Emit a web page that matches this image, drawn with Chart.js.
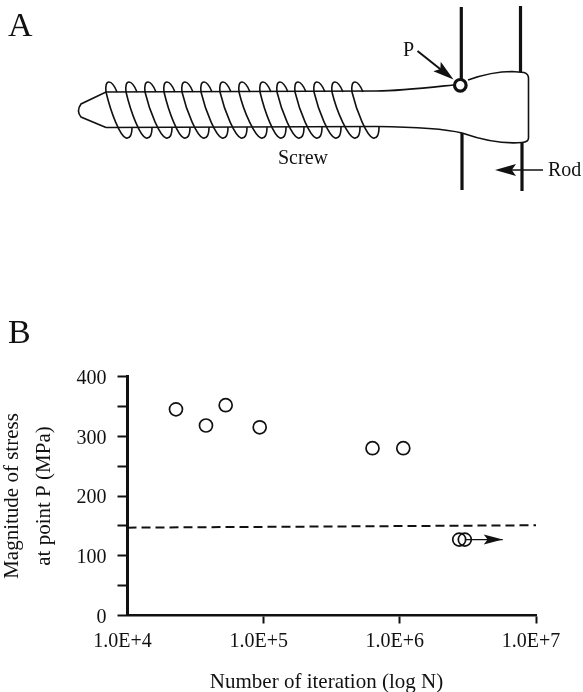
<!DOCTYPE html>
<html>
<head>
<meta charset="utf-8">
<title>Screw stress</title>
<script src="https://cdn.jsdelivr.net/npm/chart.js@4"></script>
<style>
    html, body { margin: 0; padding: 0; background: #fff; }
    canvas { display: block; }
</style>
</head>
<body>
<canvas id="stressChart" width="583" height="692"></canvas>
<script>
// ---------- Data ----------
const iterations = [2.27e4, 3.77e4, 5.26e4, 9.35e4, 6.3e5, 1.06e6, 2.73e6, 3.0e6];
const stress = [345, 318, 352, 315, 280, 280, 127, 127];
const limitIterations = [1e4, 1e7];
const limitStress = [147, 151];
const runoutIterations = [3.0e6, 5.7e6];
const runoutStress = [127, 127];
const xTicks = [1e4, 1e5, 1e6, 1e7];
const xTickLabels = ['1.0E+4', '1.0E+5', '1.0E+6', '1.0E+7'];
const yLabelledTicks = [0, 100, 200, 300, 400];

// ---------- Panel A outline (screw helix peaks) ----------
const coilTops = [109, 129, 148, 167, 185, 204, 223, 242, 263, 280, 298, 317, 335, 355];
const coilBottoms = [127, 147, 167, 185, 204, 223, 242, 262, 281, 299, 317, 336, 355, 374];

const INK = '#111';
const SERIF = '"Liberation Serif", "Times New Roman", serif';

function arrowHead(ctx, tipX, tipY, angle, length, halfWidth) {
    ctx.save();
    ctx.translate(tipX, tipY);
    ctx.rotate(angle);
    ctx.beginPath();
    ctx.moveTo(0, 0);
    ctx.lineTo(-length, -halfWidth);
    ctx.lineTo(-length * 0.8, 0);
    ctx.lineTo(-length, halfWidth);
    ctx.closePath();
    ctx.fill();
    ctx.restore();
}

function strokeLine(ctx, x1, y1, x2, y2, width) {
    ctx.lineWidth = width;
    ctx.beginPath();
    ctx.moveTo(x1, y1);
    ctx.lineTo(x2, y2);
    ctx.stroke();
}

function drawScrew(ctx) {
    ctx.lineWidth = 1.6;
    ctx.beginPath();
    // tip and top edge
    ctx.moveTo(106, 127.5);
    ctx.lineTo(81, 117);
    ctx.quadraticCurveTo(76, 111, 81, 104);
    ctx.lineTo(106, 92);
    ctx.lineTo(376, 91);
    ctx.bezierCurveTo(400, 91, 425, 88, 453, 85);
    // head
    ctx.moveTo(468, 80);
    ctx.bezierCurveTo(482, 75, 497, 71.5, 512, 71.5);
    ctx.lineTo(524, 72.5);
    ctx.quadraticCurveTo(528.5, 74, 528.5, 78);
    ctx.lineTo(528.5, 138);
    ctx.quadraticCurveTo(528.5, 142, 522, 142.5);
    ctx.bezierCurveTo(505, 144, 485, 141, 462, 133);
    // bottom edge
    ctx.bezierCurveTo(450, 130, 425, 127, 376, 126.5);
    ctx.lineTo(106, 127.5);
    ctx.stroke();

    coilTops.forEach((top, i) => {
        const bottom = coilBottoms[i];
        ctx.beginPath();
        ctx.moveTo(top + 8, 92);
        ctx.quadraticCurveTo(top + 4, 82, top, 82);
        ctx.quadraticCurveTo(top - 4, 82, top - 3, 92);
        ctx.bezierCurveTo(top + 2, 113, bottom - 7, 136, bottom - 1, 138);
        ctx.quadraticCurveTo(bottom + 5, 139, bottom + 5, 127);
        ctx.stroke();
    });
}

const panelA = {
    id: 'panelA',
    afterDraw(chart) {
        const ctx = chart.ctx;
        ctx.save();
        ctx.strokeStyle = INK;
        ctx.fillStyle = INK;
        ctx.lineCap = 'butt';

        // Rod
        strokeLine(ctx, 461.3, 7, 461.3, 80, 3.2);
        strokeLine(ctx, 462, 133, 462, 190, 3.2);
        strokeLine(ctx, 520.5, 6, 520.5, 72, 3.2);
        strokeLine(ctx, 522, 142, 522, 191, 3.2);

        drawScrew(ctx);

        // Point P
        ctx.lineWidth = 3.2;
        ctx.beginPath();
        ctx.arc(460.3, 85.3, 5.8, 0, Math.PI * 2);
        ctx.stroke();

        // Callout arrows
        strokeLine(ctx, 417.5, 51, 442, 70.5, 2);
        arrowHead(ctx, 453.5, 79.5, Math.atan2(28.5, 36), 21, 6);
        strokeLine(ctx, 543, 170, 510, 170, 1.6);
        arrowHead(ctx, 495, 170, Math.PI, 21, 6);

        // Labels
        ctx.textBaseline = 'alphabetic';
        ctx.textAlign = 'left';
        ctx.font = `34px ${SERIF}`;
        ctx.fillText('A', 8, 36);
        ctx.fillText('B', 8, 343);
        ctx.font = `20px ${SERIF}`;
        ctx.fillText('P', 403, 56);
        ctx.fillText('Screw', 278, 164);
        ctx.fillText('Rod', 548, 176);

        // Run-out arrow head on panel B
        const { x, y } = chart.scales;
        arrowHead(ctx, x.getPixelForValue(runoutIterations[1]), y.getPixelForValue(runoutStress[1]), 0, 19, 5);
        ctx.restore();
    }
};

new Chart(document.getElementById('stressChart').getContext('2d'), {
    type: 'scatter',
    data: {
        datasets: [
            {
                data: iterations.map((v, i) => ({ x: v, y: stress[i] })),
                showLine: false,
                pointRadius: 6.5,
                pointBorderWidth: 1.7,
                pointBorderColor: INK,
                pointBackgroundColor: 'rgba(0,0,0,0)'
            },
            {
                data: limitIterations.map((v, i) => ({ x: v, y: limitStress[i] })),
                showLine: true,
                borderColor: INK,
                borderWidth: 2,
                borderDash: [9, 5],
                pointRadius: 0
            },
            {
                data: runoutIterations.map((v, i) => ({ x: v, y: runoutStress[i] })),
                showLine: true,
                borderColor: INK,
                borderWidth: 1.2,
                pointRadius: 0
            }
        ]
    },
    options: {
        responsive: false,
        animation: false,
        layout: { padding: { left: 0, right: 47, top: 376.5, bottom: 0 } },
        plugins: { legend: { display: false }, tooltip: { enabled: false } },
        scales: {
            x: {
                type: 'logarithmic',
                min: 1e4,
                max: 1e7,
                afterFit: scale => { scale.height = 76.5; },
                afterBuildTicks: scale => { scale.ticks = xTicks.map(value => ({ value })); },
                border: { color: INK, width: 2.5 },
                grid: {
                    drawOnChartArea: false,
                    tickLength: 8,
                    tickWidth: 2,
                    tickColor: c => (c.index === 0 ? 'rgba(0,0,0,0)' : INK)
                },
                ticks: {
                    color: INK,
                    font: { family: SERIF, size: 20 },
                    padding: 6,
                    labelOffset: -5,
                    autoSkip: false,
                    maxRotation: 0,
                    callback: value => xTickLabels[xTicks.indexOf(value)]
                },
                title: {
                    display: true,
                    text: 'Number of iteration (log N)  ',
                    color: INK,
                    font: { family: SERIF, size: 21 },
                    padding: { top: 0, bottom: -3 }
                }
            },
            y: {
                min: 0,
                max: 400,
                afterFit: scale => { scale.width = 127.5; },
                border: { color: INK, width: 3 },
                grid: { drawOnChartArea: false, tickLength: 10, tickWidth: 2, tickColor: INK },
                ticks: {
                    stepSize: 50,
                    color: INK,
                    font: { family: SERIF, size: 20 },
                    padding: 11,
                    labelOffset: 2,
                    callback: value => (yLabelledTicks.includes(value) ? value : '')
                },
                title: {
                    display: true,
                    text: ['Magnitude of stress', 'at point P (MPa)'],
                    color: INK,
                    font: { family: SERIF, size: 21, lineHeight: 1.55 },
                    padding: { top: -4, bottom: 0 }
                }
            }
        }
    },
    plugins: [panelA]
});
</script>
</body>
</html>
